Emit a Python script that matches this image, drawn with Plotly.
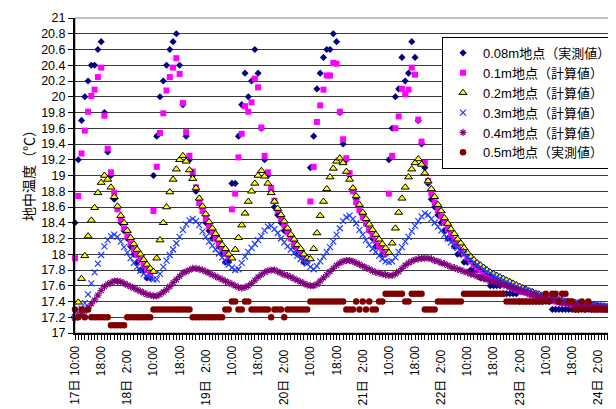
import plotly.graph_objects as go

# ---- data (hourly, from 17日 10:00) ----
t_008 = [
    18.4, 19.2, 19.7, 20.0, 20.2, 20.4, 20.4, 20.6, 20.7, 19.8, 19.3, 19.0,
    18.7, 18.6, 18.4, 18.3, 18.2, 18.1, 18.0, 17.9, 17.8, 17.8, 17.7, 17.7,
    19.0, 19.5, 20.0, 20.2, 20.4, 20.6, 20.7, 20.8, 20.4, 19.9, 19.5, 19.2,
    19.0, 18.8, 18.7, 18.6, 18.4, 18.3, 18.2, 18.2, 18.1, 18.0, 17.9, 17.9,
    18.9, 18.9, 19.5, 19.9, 20.3, 20.0, 20.2, 20.6, 20.3, 19.6, 19.2, 19.0,
    18.8, 18.6, 18.5, 18.4, 18.3, 18.3, 18.2, 18.1, 18.0, 18.0, 17.9, 17.9,
    19.1, 19.5, 20.1, 20.3, 20.5, 20.6, 20.6, 20.8, 20.7, 19.8, 19.4, 19.2,
    19.0, 18.8, 18.7, 18.6, 18.5, 18.4, 18.3, 18.2, 18.1, 18.1, 18.0, 18.0,
    19.2, 19.6, 20.0, 20.1, 20.5, 20.2, 20.3, 20.7, 20.5, 19.7, 19.4, 19.1,
    18.9, 18.7, 18.6, 18.5, 18.4, 18.3, 18.2, 18.2, 18.1, 18.0, 18.0, 17.9,
    17.9, 17.8, 17.8, 17.8, 17.7, 17.7, 17.7, 17.6, 17.6, 17.6, 17.6, 17.5,
    17.5, 17.5, 17.5, 17.5, 17.4, 17.4, 17.4, 17.4, 17.4, 17.4, 17.4, 17.4,
    17.4, 17.4, 17.3, 17.3, 17.3, 17.3, 17.3, 17.3, 17.3, 17.3, 17.3, 17.3,
    17.3, 17.3, 17.3, 17.3, 17.3, 17.3, 17.3, 17.3, 17.3, 17.2, 17.3, 17.3,
]
t_01 = [
    17.95, 18.74, 19.28, 19.57, 19.81, 20.01, 20.09, 20.25, 20.37, 19.76, 19.34, 19.04,
    18.78, 18.57, 18.44, 18.33, 18.23, 18.14, 18.06, 17.99, 17.93, 17.86, 17.80, 17.75,
    18.55, 19.11, 19.54, 19.79, 20.08, 20.25, 20.37, 20.49, 20.29, 19.92, 19.55, 19.25,
    19.05, 18.85, 18.65, 18.55, 18.45, 18.36, 18.28, 18.20, 18.13, 18.07, 18.01, 17.96,
    18.57, 18.77, 19.23, 19.53, 19.88, 19.81, 19.93, 20.23, 20.12, 19.61, 19.25, 19.04,
    18.84, 18.68, 18.56, 18.46, 18.37, 18.28, 18.20, 18.13, 18.07, 18.02, 17.97, 17.92,
    18.67, 19.11, 19.68, 19.89, 20.09, 20.27, 20.27, 20.43, 20.42, 19.81, 19.46, 19.22,
    19.03, 18.80, 18.66, 18.56, 18.47, 18.39, 18.31, 18.24, 18.17, 18.11, 18.06, 18.01,
    18.77, 19.25, 19.60, 19.75, 20.10, 20.03, 20.09, 20.37, 20.28, 19.71, 19.43, 19.16,
    18.93, 18.77, 18.66, 18.56, 18.48, 18.40, 18.32, 18.25, 18.18, 18.12, 18.06, 18.01,
    17.96, 17.91, 17.87, 17.83, 17.80, 17.77, 17.74, 17.72, 17.69, 17.67, 17.65, 17.63,
    17.61, 17.59, 17.57, 17.55, 17.54, 17.52, 17.51, 17.49, 17.48, 17.47, 17.45, 17.44,
    17.43, 17.42, 17.41, 17.40, 17.39, 17.38, 17.38, 17.37, 17.36, 17.36, 17.35, 17.34,
    17.34, 17.33, 17.33, 17.32, 17.32, 17.31, 17.30, 17.30, 17.29, 17.28, 17.28, 17.27,
]
t_02 = [
    17.22, 17.39, 17.69, 17.98, 18.23, 18.43, 18.59, 18.78, 18.91, 19.00, 18.95, 18.85,
    18.73, 18.61, 18.49, 18.40, 18.30, 18.21, 18.13, 18.06, 18.00, 17.93, 17.87, 17.82,
    17.78, 17.95, 18.18, 18.40, 18.60, 18.79, 18.95, 19.08, 19.20, 19.25, 19.18, 19.07,
    18.96, 18.84, 18.71, 18.61, 18.51, 18.41, 18.33, 18.26, 18.19, 18.12, 18.07, 18.00,
    17.95, 18.06, 18.21, 18.37, 18.52, 18.67, 18.80, 18.90, 19.00, 19.06, 18.99, 18.90,
    18.78, 18.67, 18.58, 18.50, 18.42, 18.33, 18.25, 18.19, 18.12, 18.07, 18.00, 17.95,
    17.94, 18.07, 18.27, 18.49, 18.67, 18.83, 18.98, 19.09, 19.18, 19.22, 19.16, 19.05,
    18.95, 18.84, 18.74, 18.63, 18.53, 18.45, 18.38, 18.31, 18.25, 18.19, 18.13, 18.08,
    18.02, 18.14, 18.33, 18.53, 18.71, 18.85, 18.98, 19.08, 19.16, 19.21, 19.14, 19.03,
    18.93, 18.83, 18.73, 18.63, 18.55, 18.46, 18.39, 18.32, 18.26, 18.19, 18.14, 18.08,
    18.02, 17.97, 17.93, 17.89, 17.86, 17.83, 17.80, 17.77, 17.75, 17.73, 17.71, 17.69,
    17.67, 17.65, 17.63, 17.61, 17.59, 17.57, 17.55, 17.53, 17.52, 17.50, 17.49, 17.47,
    17.46, 17.45, 17.44, 17.43, 17.42, 17.41, 17.40, 17.39, 17.39, 17.38, 17.37, 17.37,
    17.36, 17.36, 17.35, 17.35, 17.34, 17.34, 17.33, 17.33, 17.32, 17.32, 17.31, 17.31,
]
t_03 = [
    17.20, 17.25, 17.31, 17.38, 17.49, 17.63, 17.77, 17.88, 17.99, 18.10, 18.18, 18.23,
    18.25, 18.22, 18.16, 18.09, 18.02, 17.95, 17.89, 17.84, 17.79, 17.75, 17.72, 17.70,
    17.68, 17.68, 17.75, 17.84, 17.92, 17.99, 18.06, 18.14, 18.22, 18.31, 18.38, 18.43,
    18.45, 18.42, 18.37, 18.29, 18.22, 18.16, 18.11, 18.06, 18.01, 17.96, 17.91, 17.87,
    17.83, 17.80, 17.81, 17.89, 17.97, 18.03, 18.08, 18.13, 18.18, 18.23, 18.30, 18.35,
    18.36, 18.32, 18.27, 18.20, 18.15, 18.10, 18.06, 18.02, 17.98, 17.94, 17.91, 17.88,
    17.84, 17.81, 17.85, 17.91, 17.97, 18.03, 18.09, 18.16, 18.25, 18.33, 18.42, 18.47,
    18.49, 18.45, 18.39, 18.31, 18.25, 18.18, 18.12, 18.07, 18.03, 17.98, 17.94, 17.91,
    17.90, 17.91, 17.96, 18.03, 18.09, 18.16, 18.22, 18.29, 18.36, 18.42, 18.48, 18.52,
    18.50, 18.45, 18.40, 18.35, 18.30, 18.25, 18.20, 18.15, 18.11, 18.08, 18.04, 18.00,
    17.96, 17.93, 17.90, 17.87, 17.84, 17.81, 17.78, 17.76, 17.73, 17.71, 17.69, 17.67,
    17.65, 17.63, 17.61, 17.59, 17.57, 17.56, 17.54, 17.53, 17.51, 17.50, 17.48, 17.47,
    17.46, 17.45, 17.44, 17.43, 17.42, 17.41, 17.41, 17.40, 17.39, 17.39, 17.38, 17.38,
    17.37, 17.37, 17.36, 17.36, 17.35, 17.35, 17.34, 17.34, 17.34, 17.33, 17.33, 17.33,
]
t_04 = [
    17.19, 17.21, 17.24, 17.28, 17.32, 17.37, 17.42, 17.48, 17.54, 17.59, 17.62, 17.64,
    17.66, 17.66, 17.65, 17.63, 17.61, 17.59, 17.57, 17.55, 17.53, 17.51, 17.49, 17.48,
    17.47, 17.47, 17.49, 17.52, 17.55, 17.59, 17.64, 17.68, 17.72, 17.76, 17.78, 17.80,
    17.82, 17.82, 17.81, 17.80, 17.78, 17.76, 17.74, 17.72, 17.70, 17.68, 17.66, 17.64,
    17.62, 17.60, 17.58, 17.57, 17.58, 17.60, 17.63, 17.67, 17.71, 17.74, 17.77, 17.79,
    17.80, 17.80, 17.78, 17.76, 17.74, 17.73, 17.71, 17.69, 17.67, 17.65, 17.63, 17.61,
    17.60, 17.60, 17.62, 17.66, 17.70, 17.74, 17.78, 17.82, 17.86, 17.89, 17.91, 17.92,
    17.92, 17.91, 17.89, 17.87, 17.85, 17.83, 17.81, 17.79, 17.77, 17.76, 17.75, 17.74,
    17.73, 17.73, 17.75, 17.78, 17.82, 17.86, 17.89, 17.91, 17.93, 17.94, 17.95, 17.95,
    17.95, 17.94, 17.92, 17.91, 17.89, 17.88, 17.86, 17.84, 17.83, 17.81, 17.80, 17.78,
    17.77, 17.75, 17.74, 17.72, 17.71, 17.69, 17.68, 17.66, 17.65, 17.64, 17.62, 17.61,
    17.60, 17.58, 17.57, 17.56, 17.54, 17.53, 17.52, 17.50, 17.49, 17.48, 17.46, 17.45,
    17.44, 17.43, 17.42, 17.41, 17.40, 17.39, 17.38, 17.38, 17.37, 17.36, 17.36, 17.35,
    17.35, 17.34, 17.34, 17.33, 17.33, 17.33, 17.32, 17.32, 17.32, 17.32, 17.31, 17.31,
]
t_05 = [
    17.3, 17.2, 17.3, 17.2, 17.3, 17.2, 17.2, 17.2, 17.2, 17.2, 17.2, 17.1,
    17.1, 17.1, 17.1, 17.1, 17.2, 17.2, 17.2, 17.2, 17.2, 17.2, 17.2, 17.2,
    17.3, 17.3, 17.3, 17.3, 17.3, 17.3, 17.3, 17.3, 17.3, 17.3, 17.3, 17.3,
    17.2, 17.2, 17.2, 17.2, 17.2, 17.2, 17.2, 17.2, 17.2, 17.2, 17.3, 17.3,
    17.4, 17.4, 17.3, 17.3, 17.4, 17.4, 17.3, 17.3, 17.3, 17.3, 17.3, 17.3,
    17.2, 17.3, 17.3, 17.3, 17.2, 17.3, 17.3, 17.3, 17.3, 17.3, 17.3, 17.3,
    17.4, 17.4, 17.4, 17.4, 17.4, 17.4, 17.4, 17.4, 17.4, 17.4, 17.4, 17.3,
    17.3, 17.3, 17.4, 17.3, 17.4, 17.3, 17.4, 17.3, 17.3, 17.4, 17.4, 17.5,
    17.5, 17.5, 17.5, 17.5, 17.5, 17.4, 17.4, 17.5, 17.5, 17.5, 17.5, 17.3,
    17.3, 17.3, 17.3, 17.4, 17.4, 17.4, 17.4, 17.4, 17.4, 17.4, 17.4, 17.5,
    17.5, 17.5, 17.5, 17.5, 17.5, 17.5, 17.5, 17.5, 17.5, 17.5, 17.5, 17.5,
    17.4, 17.4, 17.4, 17.4, 17.4, 17.4, 17.4, 17.4, 17.4, 17.4, 17.4, 17.4,
    17.5, 17.4, 17.5, 17.5, 17.4, 17.5, 17.5, 17.4, 17.4, 17.3, 17.3, 17.4,
    17.3, 17.4, 17.3, 17.3, 17.3, 17.3, 17.3, 17.3, 17.3, 17.3, 17.3, 17.3,
]

series_names = [
    "0.08m地点（実測値）", "0.1m地点（計算値）", "0.2m地点（計算値）",
    "0.3m地点（計算値）", "0.4m地点（計算値）", "0.5m地点（実測値）",
]

time_tick_hours = [0, 8, 16, 24, 32, 40, 48, 56, 64, 72, 80, 88, 96, 104,
                   112, 120, 128, 136, 144, 152, 160]
time_tick_labels = ["10:00", "18:00", "2:00"] * 7
day_tick_hours = [0, 16, 40, 64, 88, 112, 136, 160]
day_tick_labels = ["17日", "18日", "19日", "20日", "21日", "22日", "23日", "24日"]
y_tick_vals = [17.0, 17.2, 17.4, 17.6, 17.8, 18.0, 18.2, 18.4, 18.6, 18.8, 19.0,
               19.2, 19.4, 19.6, 19.8, 20.0, 20.2, 20.4, 20.6, 20.8, 21.0]
y_tick_labels = ["17", "17.2", "17.4", "17.6", "17.8", "18", "18.2", "18.4", "18.6",
                 "18.8", "19", "19.2", "19.4", "19.6", "19.8", "20", "20.2", "20.4",
                 "20.6", "20.8", "21"]

hours = list(range(len(t_008)))

FONT = "Liberation Sans, Arial, Noto Sans CJK JP, sans-serif"

styles = [
    dict(symbol="diamond", size=5.5, color="#000080"),
    dict(symbol="square", size=6, color="#FF00FF"),
    dict(symbol="triangle-up", size=7, color="#FFFF00", line=dict(color="#000000", width=1)),
    dict(symbol="x-thin", size=6, color="#1F3BFF", line=dict(color="#1F3BFF", width=1.2)),
    dict(symbol="asterisk-open", size=6, color="#800080", line=dict(color="#800080", width=1.2)),
    dict(symbol="circle", size=6.5, color="#800000"),
]

fig = go.Figure()
for name, vals, st in zip(series_names, [t_008, t_01, t_02, t_03, t_04, t_05], styles):
    fig.add_trace(go.Scatter(x=hours, y=vals, mode="markers", name=name,
                             marker=st, cliponaxis=False))

annotations = []
for h, lab in zip(time_tick_hours, time_tick_labels):
    annotations.append(dict(x=h, y=-0.089, xref="x", yref="paper", text=lab,
                            textangle=-90, showarrow=False, xanchor="center",
                            yanchor="middle", font=dict(size=12, color="black", family=FONT)))
for h, lab in zip(day_tick_hours, day_tick_labels):
    annotations.append(dict(x=h, y=-0.19, xref="x", yref="paper", text=lab,
                            textangle=-90, showarrow=False, xanchor="center",
                            yanchor="middle", font=dict(size=12, color="black", family=FONT)))
annotations.append(dict(x=-0.086, y=0.511, xref="paper", yref="paper", text="地中温度（℃）",
                        textangle=-90, showarrow=False, xanchor="center", yanchor="middle",
                        font=dict(size=14, color="black", family="Noto Sans CJK JP")))

fig.update_layout(
    width=616, height=409,
    margin=dict(l=67, r=3, t=10, b=84),
    paper_bgcolor="white", plot_bgcolor="white",
    font=dict(family=FONT, size=12, color="black"),
    showlegend=True,
    legend=dict(x=0.9927, xanchor="right", y=0.94, yanchor="top",
                bgcolor="white", bordercolor="#000000", borderwidth=1,
                font=dict(size=13, family=FONT, color="black")),
    annotations=annotations,
    shapes=[dict(type="rect", xref="paper", yref="paper", x0=0, x1=1, y0=0, y1=1,
                 line=dict(color="#808080", width=1), layer="below")],
)
fig.update_xaxes(range=[0, 167], showgrid=False, zeroline=False,
                 showline=True, linecolor="black", linewidth=2,
                 tickmode="array", tickvals=time_tick_hours, showticklabels=False,
                 ticks="outside", ticklen=5, tickcolor="black", tickwidth=1,
                 minor=dict(tickmode="linear", tick0=0, dtick=1, ticks="outside",
                            ticklen=5, tickcolor="black", tickwidth=1, showgrid=False))
fig.update_yaxes(range=[17, 21], tickmode="array", tickvals=y_tick_vals,
                 ticktext=y_tick_labels, showgrid=True, gridcolor="#3a3a3a", gridwidth=1,
                 zeroline=False, showline=True, linecolor="black", linewidth=2,
                 ticks="outside", ticklen=5, tickcolor="black",
                 tickfont=dict(size=12.5, color="black", family=FONT))

fig.write_html("out.html")
